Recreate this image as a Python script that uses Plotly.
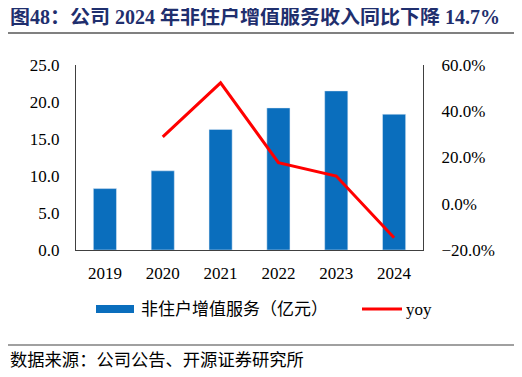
import plotly.graph_objects as go

years = ["2019", "2020", "2021", "2022", "2023", "2024"]
revenue = [8.3, 10.7, 16.3, 19.2, 21.5, 18.35]
yoy_years = ["2020", "2021", "2022", "2023", "2024"]
yoy = [28.9, 52.3, 17.8, 12.0, -14.7]

bar_name = "非住户增值服务（亿元）"
line_name = "yoy"
title = "图48：公司 2024 年非住户增值服务收入同比下降 14.7%"
source = "数据来源：公司公告、开源证券研究所"

FONT = "Liberation Serif, Noto Sans CJK SC"
BLUE = "#0A6EBD"
RED = "#FF0000"
AX = "#404040"
RULE = "#808080"

# page has an 8px body margin; figure is placed at (8, 8)
OFF = 8
W, H = 522 - OFF, 377 - OFF
PL, PR, PT, PB = 76, 423, 65, 250          # plot area in page pixels
L, T = PL - OFF, PT - OFF
R, B = 522 - PR, 377 - PB
PW, PH = PR - PL, PB - PT


def px(x):
    return (x - PL) / PW


def py(y):
    return (PB - y) / PH


fig = go.Figure()
fig.add_trace(go.Bar(x=years, y=revenue, name=bar_name, marker_color=BLUE,
                     width=0.4, showlegend=False))
fig.add_trace(go.Scatter(x=yoy_years, y=yoy, name=line_name, yaxis="y2",
                         mode="lines", line=dict(color=RED, width=3),
                         showlegend=False))

fig.update_layout(
    width=W, height=H,
    margin=dict(l=L, r=R, t=T, b=B),
    paper_bgcolor="white", plot_bgcolor="white",
    font=dict(family=FONT, size=17, color="#000000"),
    xaxis=dict(type="category", showline=True, linecolor=AX, linewidth=1,
               ticks="", showgrid=False, tickfont=dict(size=17),
               ticklabelstandoff=8, range=[-0.5, 5.5]),
    yaxis=dict(range=[0, 25], dtick=5, tickformat=".1f", showline=True,
               linecolor=AX, linewidth=1, ticks="", showgrid=False,
               zeroline=False, tickfont=dict(size=17), ticklabelstandoff=12),
    yaxis2=dict(range=[-20, 60], dtick=20, overlaying="y", side="right",
                ticksuffix="%", tickformat=".1f", showline=True,
                linecolor=AX, linewidth=1, ticks="", showgrid=False,
                zeroline=False, tickfont=dict(size=17), ticklabelstandoff=14),
)

# title, rules, source
fig.add_annotation(text="<b>" + title + "</b>", xref="paper", yref="paper",
                   x=px(8), y=py(16), xanchor="left", yanchor="middle",
                   showarrow=False, font=dict(size=20, color="#1F2F6E", family=FONT))
fig.add_shape(type="line", xref="paper", yref="paper",
              x0=px(8), x1=px(516), y0=py(33), y1=py(33),
              line=dict(color=RULE, width=2))
fig.add_shape(type="line", xref="paper", yref="paper",
              x0=px(8), x1=px(516), y0=py(345), y1=py(345),
              line=dict(color=RULE, width=1.5))
fig.add_annotation(text=source, xref="paper", yref="paper",
                   x=px(8), y=py(360), xanchor="left", yanchor="middle",
                   showarrow=False, font=dict(size=17.3, color="#000000", family=FONT))

# manual legend
ly = 309
fig.add_shape(type="rect", xref="paper", yref="paper",
              x0=px(96), x1=px(134), y0=py(ly + 4), y1=py(ly - 4),
              fillcolor=BLUE, line=dict(width=0))
fig.add_annotation(text=bar_name, xref="paper", yref="paper",
                   x=px(139), y=py(ly), xanchor="left", yanchor="middle",
                   showarrow=False, font=dict(size=17, family=FONT))
fig.add_shape(type="line", xref="paper", yref="paper",
              x0=px(362), x1=px(402), y0=py(ly), y1=py(ly),
              line=dict(color=RED, width=3))
fig.add_annotation(text=line_name, xref="paper", yref="paper",
                   x=px(404), y=py(ly), xanchor="left", yanchor="middle",
                   showarrow=False, font=dict(size=17, family=FONT))

fig.write_html("out.html")
